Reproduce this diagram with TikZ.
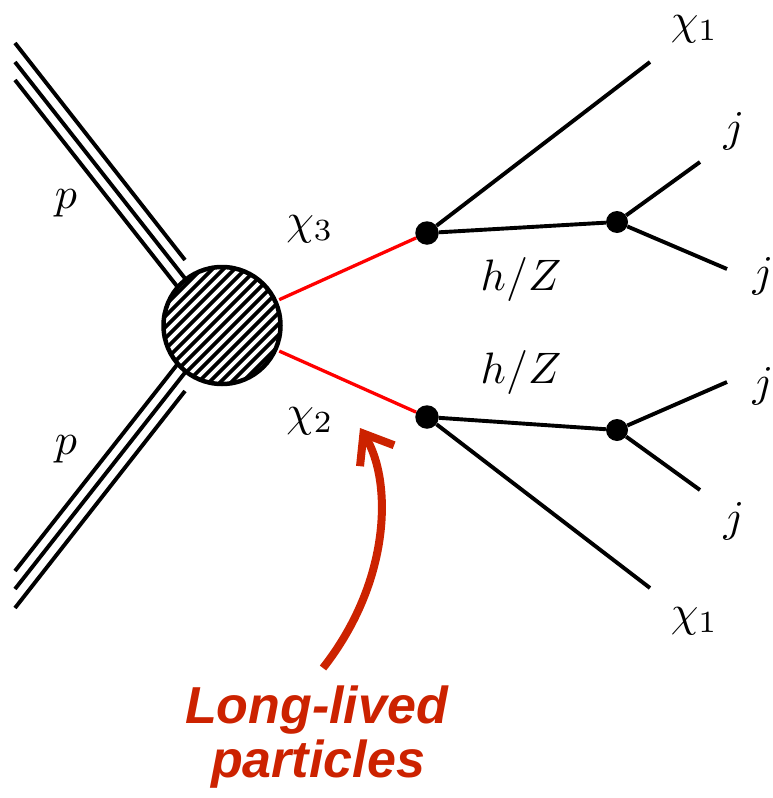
\documentclass[tikz,border=0pt]{standalone}
\usepackage{fontspec}
\newfontfamily\llpfont{Liberation Sans}
\usetikzlibrary{arrows.meta}
\definecolor{llpcol}{RGB}{204,34,0}
\definecolor{redline}{RGB}{255,0,0}
\begin{document}
\begin{tikzpicture}[x=1pt,y=-1pt,
  fermion/.style={line width=3.9pt},
  llpline/.style={line width=3.3pt, draw=redline, shorten <=2pt},
  vtx/.style={circle, fill=black, inner sep=0pt, minimum size=23.5pt},
  lbl/.style={inner sep=0pt, anchor=base, scale=4.4, font=\normalsize},
  redtext/.style={inner sep=0pt, anchor=base, text=llpcol, font=\llpfont\bfseries\itshape\fontsize{52}{60}\selectfont},
  ]
\useasboundingbox (0,0) rectangle (773,798);
% blob centre and proton lines
\coordinate (B) at (222,325.5);
\coordinate (pa1) at (15,43);  \coordinate (pa1e) at (185,260);
\coordinate (pa2) at (15,62);
\coordinate (pa3) at (15,80);  \coordinate (pa3e) at (222,343.5);
\coordinate (pb1) at (15,608); \coordinate (pb1e) at (185,391);
\coordinate (pb2) at (15,589);
\coordinate (pb3) at (15,571); \coordinate (pb3e) at (222,307.5);
\draw[fermion] (pa1) -- (pa1e);
\draw[fermion] (pa2) -- (B);
\draw[fermion] (pa3) -- (pa3e);
\draw[fermion] (pb1) -- (pb1e);
\draw[fermion] (pb2) -- (B);
\draw[fermion] (pb3) -- (pb3e);
% hatched blob
\node[circle, minimum size=117pt, inner sep=0pt, draw, line width=4.5pt, fill=white,
  path picture={
    \foreach \k in {-12,...,12}{
      \draw[line width=3.6pt]
        ([xshift={(11*\k-90)*1pt}, yshift=-90pt]path picture bounding box.center) --
        ([xshift={(11*\k+90)*1pt}, yshift=90pt]path picture bounding box.center);
    }
  }] (blob) at (B) {};
% vertices
\node[vtx] (V1) at (427,233) {};
\node[vtx] (V2) at (427,417) {};
\node[vtx, minimum size=22pt] (V3) at (617,222) {};
\node[vtx, minimum size=22pt] (V4) at (617,430) {};
% free ends
\coordinate (c1t) at (650,62);
\coordinate (j1) at (700,162);
\coordinate (j2) at (727,269);
\coordinate (j3) at (727,382);
\coordinate (j4) at (700,490);
\coordinate (c1b) at (650,588);
% lines
\draw[llpline] (blob) -- (V1);
\draw[llpline] (blob) -- (V2);
\draw[fermion] (V1) -- (c1t);
\draw[fermion] (V1) -- (V3);
\draw[fermion] (V3) -- (j1);
\draw[fermion] (V3) -- (j2);
\draw[fermion] (V2) -- (V4);
\draw[fermion] (V2) -- (c1b);
\draw[fermion] (V4) -- (j3);
\draw[fermion] (V4) -- (j4);
% labels
\node[lbl] (lp1) at (66,208.5) {$p$};
\node[lbl] (lp2) at (66,454.5) {$p$};
\node[lbl] (lchi3) at (310,234) {$\chi_3$};
\node[lbl] (lchi2) at (310,426) {$\chi_2$};
\node[lbl] (lhz1) at (521,290) {$h/Z$};
\node[lbl] (lhz2) at (521,383) {$h/Z$};
\node[lbl] (lc1t) at (694.5,34) {$\chi_1$};
\node[lbl] (lj1) at (734,141.5) {$j$};
\node[lbl] (lj2) at (763,286.5) {$j$};
\node[lbl] (lj3) at (763,396.5) {$j$};
\node[lbl] (lj4) at (734,531.5) {$j$};
\node[lbl] (lc1b) at (694.5,626) {$\chi_1$};
% long-lived particles
\node[redtext] (llp1) at (316.5,723) {Long-lived};
\node[redtext] (llp2) at (318,777) {particles};
\coordinate (at) at (323,668);
\coordinate (ah) at (360,428);
\draw[llpcol, line width=8pt, -{Straight Barb[length=26pt,width=40pt]}]
  (at) .. controls (392,580) and (392,480) .. (ah);
\end{tikzpicture}
\end{document}
